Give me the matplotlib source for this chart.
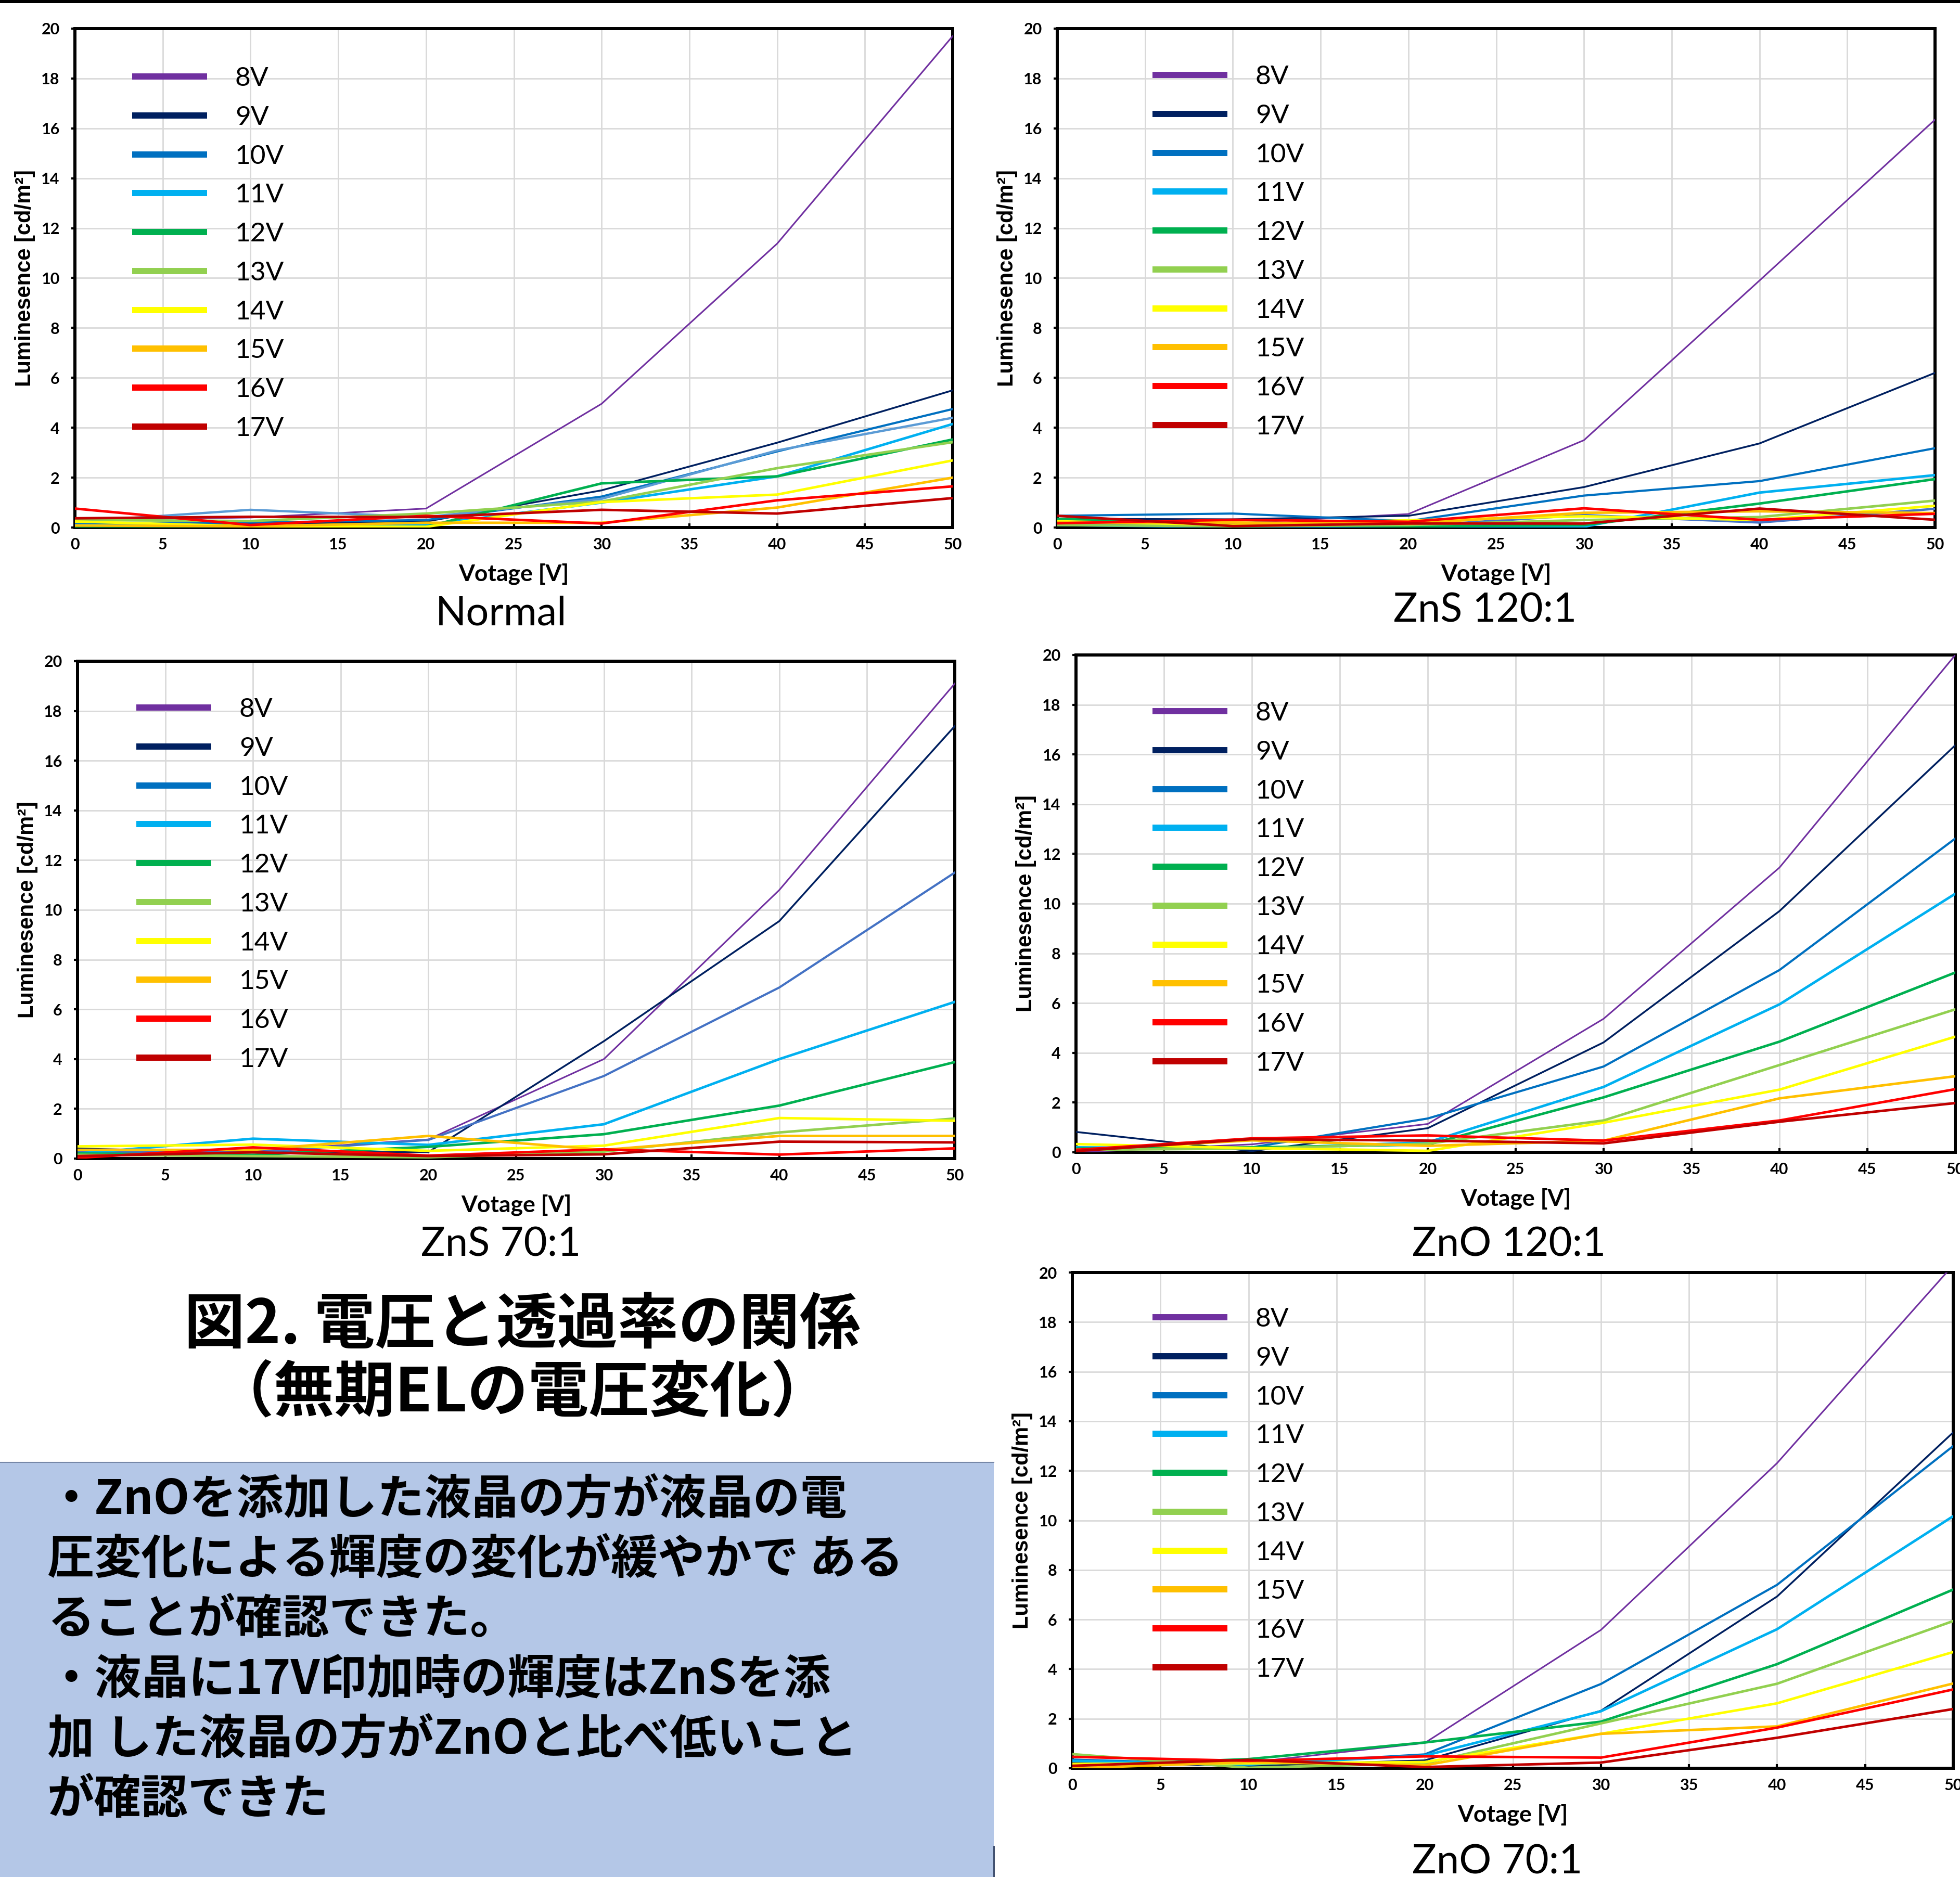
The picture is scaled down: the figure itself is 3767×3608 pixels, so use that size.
import matplotlib
matplotlib.use("Agg")
import matplotlib.pyplot as plt
from matplotlib.lines import Line2D
from matplotlib.patches import Rectangle

# ---------------------------------------------------------------- data
voltage = [0, 10, 20, 30, 40, 50]

series_labels = ["8V", "9V", "10V", "11V", "12V", "13V", "14V", "15V", "16V", "17V"]
series_colors = ["#7030A0", "#002060", "#0070C0", "#00B0F0", "#00B050",
                 "#92D050", "#FFFF00", "#FFC000", "#FF0000", "#C00000"]
series_widths = [2.2, 2.5, 3.0, 3.5, 3.5, 3.5, 3.5, 3.5, 3.5, 3.5]

# luminescence [cd/m2], one row per drive voltage (8V ... 17V)
normal_lum = [
    [0.30, 0.40, 0.76, 4.96, 11.38, 19.70],
    [0.17, 0.14, 0.24, 1.49, 3.40, 5.50],
    [0.15, 0.20, 0.30, 1.24, 3.05, 4.75],
    [0.10, 0.05, 0.10, 1.00, 2.05, 4.15],
    [0.05, 0.05, 0.03, 1.77, 2.05, 3.53],
    [0.30, 0.26, 0.56, 1.04, 2.38, 3.42],
    [0.24, 0.05, 0.03, 1.02, 1.32, 2.69],
    [0.08, 0.05, 0.19, 0.19, 0.80, 2.00],
    [0.76, 0.10, 0.47, 0.16, 1.09, 1.65],
    [0.37, 0.43, 0.42, 0.71, 0.56, 1.18],
]
normal_extra = [0.23, 0.71, 0.42, 1.15, 3.09, 4.40]

zns120_lum = [
    [0.33, 0.17, 0.54, 3.50, 9.90, 16.35],
    [0.35, 0.33, 0.47, 1.62, 3.37, 6.20],
    [0.47, 0.56, 0.26, 1.28, 1.86, 3.18],
    [0.10, 0.02, 0.05, 0.03, 1.40, 2.10],
    [0.35, 0.10, 0.05, 0.10, 0.96, 1.94],
    [0.10, 0.05, 0.10, 0.30, 0.42, 1.08],
    [0.25, 0.10, 0.29, 0.45, 0.30, 0.87],
    [0.20, 0.20, 0.15, 0.59, 0.65, 0.58],
    [0.17, 0.31, 0.23, 0.77, 0.31, 0.55],
    [0.47, 0.06, 0.16, 0.16, 0.76, 0.31],
]
zns120_extra = [0.15, 0.10, 0.05, 0.50, 0.20, 0.75]

zns70_lum = [
    [0.10, 0.30, 0.77, 4.00, 10.80, 19.10],
    [0.40, 0.25, 0.26, 4.72, 9.55, 17.39],
    [0.25, 0.25, 0.75, 3.32, 6.88, 11.50],
    [0.20, 0.80, 0.55, 1.38, 4.00, 6.30],
    [0.20, 0.15, 0.47, 0.98, 2.13, 3.88],
    [0.15, 0.10, 0.05, 0.28, 1.05, 1.61],
    [0.49, 0.56, 0.31, 0.52, 1.63, 1.52],
    [0.35, 0.35, 0.91, 0.35, 0.91, 0.91],
    [0.03, 0.45, 0.12, 0.37, 0.16, 0.41],
    [0.10, 0.25, 0.10, 0.17, 0.68, 0.65],
]

zno120_lum = [
    [0.00, 0.32, 1.14, 5.37, 11.45, 20.00],
    [0.82, 0.05, 0.97, 4.42, 9.70, 16.37],
    [0.10, 0.20, 1.36, 3.45, 7.33, 12.62],
    [0.20, 0.15, 0.40, 2.63, 5.95, 10.40],
    [0.15, 0.20, 0.31, 2.21, 4.45, 7.23],
    [0.10, 0.15, 0.35, 1.28, 3.51, 5.75],
    [0.33, 0.17, 0.06, 1.19, 2.52, 4.65],
    [0.10, 0.48, 0.26, 0.47, 2.17, 3.06],
    [0.10, 0.56, 0.68, 0.47, 1.28, 2.54],
    [0.05, 0.53, 0.47, 0.36, 1.23, 1.98],
]

zno70_lum = [
    [0.27, 0.23, 1.02, 5.58, 12.31, 20.30],
    [0.25, 0.09, 0.32, 2.32, 6.93, 13.55],
    [0.35, 0.15, 0.56, 3.40, 7.40, 13.00],
    [0.30, 0.15, 0.51, 2.30, 5.61, 10.17],
    [0.10, 0.37, 1.04, 1.88, 4.20, 7.21],
    [0.57, 0.02, 0.20, 1.81, 3.41, 5.94],
    [0.18, 0.20, 0.25, 1.39, 2.62, 4.69],
    [0.00, 0.25, 0.12, 1.39, 1.69, 3.42],
    [0.46, 0.30, 0.48, 0.43, 1.64, 3.18],
    [0.10, 0.34, 0.05, 0.23, 1.23, 2.39],
]

x_ticks = list(range(0, 51, 5))
y_ticks = list(range(0, 21, 2))

figure_title = ["図2. 電圧と透過率の関係", "（無期ELの電圧変化）"]
summary_lines = [
    "・ZnOを添加した液晶の方が液晶の電",
    "圧変化による輝度の変化が緩やかで ある",
    "ることが確認できた。",
    "・液晶に17V印加時の輝度はZnSを添",
    "加 した液晶の方がZnOと比べ低いこと",
    "が確認できた",
]

# ---------------------------------------------------------------- figure
W, H, DPI = 3767, 3608, 100
plt.rcParams["font.family"] = ["Lato", "DejaVu Sans"]
CJK = ["Noto Sans CJK JP", "DejaVu Sans"]

fig = plt.figure(figsize=(W / DPI, H / DPI), dpi=DPI)
fig.patch.set_facecolor("white")


def px_axes(left, right, top, bottom):
    return fig.add_axes([left / W, 1 - bottom / H, (right - left) / W, (bottom - top) / H])


def draw_panel(rect, data, title, title_xy, legend_px, extra=None,
               extra_color=None, color_override=None):
    left, right, top, bottom = rect
    ax = px_axes(left, right, top, bottom)
    aw, ah = right - left, bottom - top
    colors = list(series_colors)
    if color_override:
        for i, c in color_override.items():
            colors[i] = c

    for i, row in enumerate(data):
        ax.plot(voltage, row, color=colors[i], lw=series_widths[i],
                solid_joinstyle="miter", zorder=3 + i * 0.01)
        if extra is not None and i == 2:
            ax.plot(voltage, extra, color=extra_color, lw=3.2, zorder=3.025)

    ax.set_xlim(0, 50)
    ax.set_ylim(0, 20)
    ax.set_xticks(x_ticks)
    ax.set_yticks(y_ticks)
    ax.grid(True, color="#D9D9D9", lw=2.0)
    ax.set_axisbelow(True)
    for sp in ax.spines.values():
        sp.set_linewidth(4.3)
        sp.set_color("black")
    ax.tick_params(axis="x", direction="in", length=6, width=3, pad=14, labelsize=22)
    ax.tick_params(axis="y", direction="out", length=5, width=3, pad=16, labelsize=22)
    for lab in ax.get_xticklabels() + ax.get_yticklabels():
        lab.set_fontweight("bold")

    ax.set_xlabel("Votage [V]", fontsize=32, fontweight="bold")
    ax.xaxis.set_label_coords(0.5, -89 / ah)
    ax.xaxis.label.set_va("center")
    ax.set_ylabel("Luminesence [cd/m²]", fontsize=30,
                  fontweight="bold", family=["Liberation Sans", "DejaVu Sans"])
    ax.yaxis.set_label_coords(-96 / aw, 0.5)
    ax.yaxis.label.set_va("center")

    handles = [Line2D([], [], color=c, lw=8.6, solid_capstyle="butt")
               for c in series_colors]
    lx, ly = legend_px
    ax.legend(handles, series_labels, loc="upper left",
              bbox_to_anchor=((lx - left) / aw, 1 - (ly - top) / ah),
              frameon=False, prop={"family": "Lato", "size": 37},
              handlelength=2.8, handletextpad=1.05, labelspacing=0.56,
              borderpad=0, borderaxespad=0)

    fig.text(title_xy[0] / W, 1 - title_xy[1] / H, title, ha="center",
             va="center", fontsize=56)
    return ax


draw_panel((144, 1831, 55, 1014), normal_lum, "Normal", (963, 1180),
           (254, 128), extra=normal_extra, extra_color="#5B9BD5")
draw_panel((2032, 3719, 55, 1014), zns120_lum, "ZnS 120:1", (2854, 1174),
           (2215, 125), extra=zns120_extra, extra_color="#4472C4")
draw_panel((149, 1835, 1271, 2227), zns70_lum, "ZnS 70:1", (963, 2393),
           (262, 1341), color_override={2: "#4472C4"})
draw_panel((2068, 3758, 1259, 2215), zno120_lum, "ZnO 120:1", (2900, 2393),
           (2215, 1348))
draw_panel((2061, 3754, 2446, 3399), zno70_lum, "ZnO 70:1", (2878, 3580),
           (2215, 2513))

# black rule along the top edge
fig.add_artist(Rectangle((0, 1 - 6 / H), 1, 6 / H, transform=fig.transFigure,
                         facecolor="black", edgecolor="none"))

# figure caption
fig.text(1004 / W, 1 - 2547 / H, figure_title[0], ha="center", va="center",
         fontsize=84, fontweight="bold", family=CJK)
fig.text(1004 / W, 1 - 2679 / H, figure_title[1], ha="center", va="center",
         fontsize=84, fontweight="bold", family=CJK)

# summary box
box_top = 2811
fig.add_artist(Rectangle((0, 0), 1910 / W, (H - box_top) / H,
                         transform=fig.transFigure, facecolor="#B4C7E7",
                         edgecolor="none", zorder=0))
fig.add_artist(Line2D([0, 1910 / W], [1 - box_top / H] * 2,
                      transform=fig.transFigure, color="#7688A8", lw=1.5))
fig.add_artist(Line2D([1910 / W] * 2, [0, 1 - 3549 / H],
                      transform=fig.transFigure, color="#2F3F5F", lw=2.0))

for k, line in enumerate(summary_lines):
    fig.text(91 / W, 1 - (2883 + k * 115.3) / H, line, ha="left", va="center",
             fontsize=65, fontweight="bold", family=CJK)

fig.savefig("out.png", dpi=DPI, facecolor="white")
